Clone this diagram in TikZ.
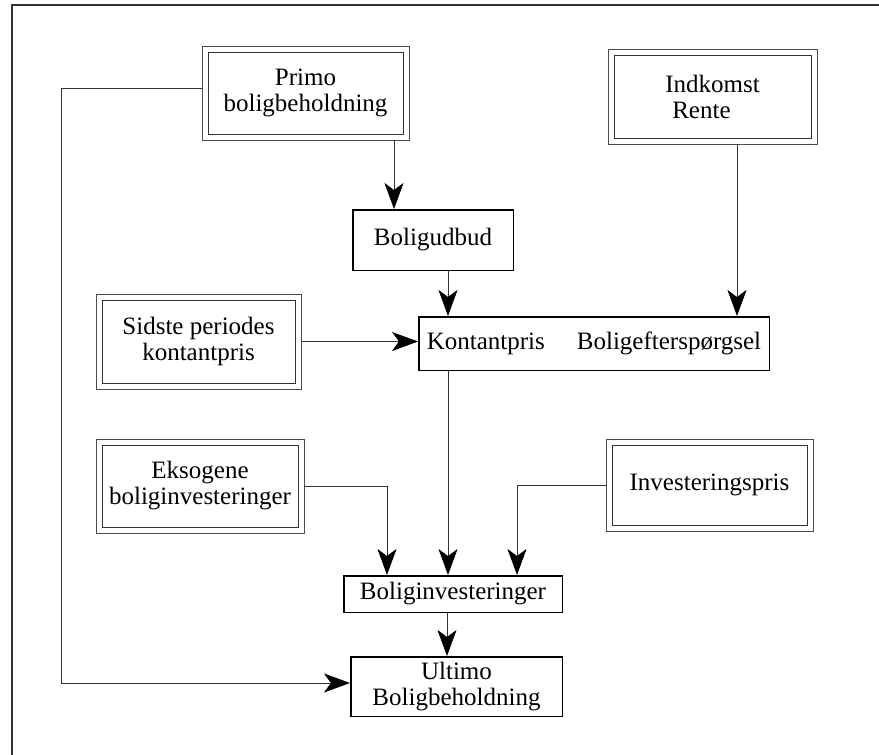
\documentclass[tikz,border=0pt]{standalone}
\usepackage{fontspec}
\setmainfont{Liberation Serif}
\usetikzlibrary{arrows.meta,calc}
\begin{document}
\begin{tikzpicture}[x=1pt,y=-1pt,
  font=\fontsize{25}{26}\selectfont,
  dbox/.style={draw=black!80, line width=0.8pt, align=center, inner sep=0pt, outer sep=6pt},
  oline/.style={draw=black!70, line width=0.8pt},
  sbox/.style={draw=black, line width=1.5pt, align=center, inner sep=0pt, outer sep=0.75pt},
  conn/.style={draw=black!80, line width=0.6pt},
  arr/.style={conn, -{Stealth[length=26pt,width=19pt,inset=7pt,black]}},
]
\useasboundingbox (0,0) rectangle (879,755);
% frame (top and left edges)
\draw[line width=1.2pt, black!80] (879,5) -- (12,5) -- (12,755);

\node[dbox, minimum width=195pt, minimum height=82pt] (primo) at (305.5,93) {Primo\\boligbeholdning};
\node[dbox, minimum width=197pt, minimum height=83pt, align=left] (ind) at (712.5,96.5) {Indkomst\\\hspace*{7pt}Rente};
\node[sbox, minimum width=160.5pt, minimum height=60.5pt] (bud) at (433,240) {Boligudbud};
\node[dbox, minimum width=193pt, minimum height=83pt] (sid) at (198.5,341.5) {Sidste periodes\\kontantpris};
\node[sbox, minimum width=350.5pt, minimum height=53.5pt] (kont) at (594,343.5) {Kontantpris\hspace{32pt}Boligefterspørgsel};
\node[dbox, minimum width=196pt, minimum height=82pt] (eks) at (200,486) {Eksogene\\boliginvesteringer};
\node[dbox, minimum width=195pt, minimum height=80pt] (invp) at (709.5,485) {Investeringspris};
\node[sbox, minimum width=218.5pt, minimum height=36.5pt] (binv) at (453,594) {Boliginvesteringer};
\node[sbox, minimum width=211.5pt, minimum height=59.5pt] (ult) at (456.5,686.5) {Ultimo\\Boligbeholdning};

% outer lines of the double boxes
\foreach \n in {primo,ind,sid,eks,invp}
  \draw[oline] (\n.south west) rectangle (\n.north east);

% connectors
\draw[arr] ([yshift=5pt]primo.west) -- ++(-141,0) |- ([yshift=3.5pt]ult.west);

\coordinate (pb) at ($(bud.north)+(-39,0)$);
\draw[arr] (pb |- primo.south) -- (pb);

\coordinate (bk) at ($(bud.south)+(15,0)$);
\draw[arr] (bk) -- (bk |- kont.north);
\draw[arr] (bk |- kont.south) -- (bk |- binv.north);

\coordinate (ik) at ($(ind.south)+(24.5,0)$);
\draw[arr] (ik) -- (ik |- kont.north);

\draw[arr] (sid.east) -- (sid.east -| kont.west);

\coordinate (eb) at ($(binv.north)+(-66,0)$);
\draw[arr] (eks.east) -| (eb);
\coordinate (ib) at ($(binv.north)+(64,0)$);
\draw[arr] (invp.west) -| (ib);

\coordinate (bu) at ($(binv.south)+(-6,0)$);
\draw[arr] (bu) -- (bu |- ult.north);
\end{tikzpicture}
\end{document}
